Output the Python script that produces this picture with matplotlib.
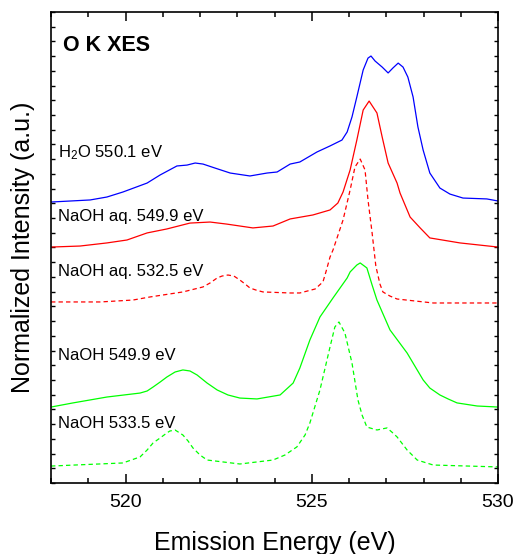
import matplotlib
matplotlib.use("Agg")
import matplotlib.pyplot as plt
from matplotlib.ticker import MultipleLocator, NullFormatter

plt.rcParams["font.family"] = ["Liberation Sans", "DejaVu Sans"]
plt.rcParams["mathtext.default"] = "regular"

# O K-edge XES spectra, vertically offset (arbitrary units)
h2o_e = [518.00, 519.05, 519.50, 519.93, 520.58, 520.93, 521.38, 521.65, 521.87, 522.08,
         522.40, 522.81, 523.34, 523.80, 524.07, 524.42, 524.68, 525.14, 525.49, 525.81,
         525.95, 526.08, 526.21, 526.38, 526.51, 526.59, 526.70, 526.89, 527.05, 527.18,
         527.32, 527.45, 527.58, 527.72, 527.85, 527.99, 528.17, 528.44, 528.71, 529.06,
         529.70, 530.00]
h2o_i = [19.09, 19.23, 19.43, 19.77, 20.38, 20.93, 21.54, 21.60, 21.74, 21.67,
         21.40, 21.06, 20.86, 21.06, 21.13, 21.67, 21.81, 22.49, 22.90, 23.30,
         23.85, 24.87, 26.23, 28.06, 28.87, 29.01, 28.67, 28.26, 27.86, 28.20,
         28.53, 28.26, 27.58, 26.23, 24.19, 22.62, 21.06, 20.04, 19.63, 19.36,
         19.30, 19.16]

aq_hi_e = [518.00, 518.78, 519.50, 520.04, 520.58, 521.11, 521.73, 522.27, 522.72, 523.42,
           523.96, 524.42, 525.03, 525.49, 525.70, 525.84, 526.03, 526.21, 526.38, 526.54,
           526.75, 526.89, 527.05, 527.29, 527.37, 527.64, 527.91, 528.17, 528.98, 530.00]
aq_hi_i = [16.03, 16.10, 16.31, 16.51, 16.99, 17.26, 17.66, 17.73, 17.59, 17.33,
           17.46, 17.94, 18.21, 18.55, 19.02, 19.77, 21.27, 23.30, 25.34, 25.95,
           25.14, 23.51, 21.74, 20.38, 19.70, 18.07, 17.33, 16.65, 16.31, 16.03]

aq_res_e = [518.00, 519.32, 520.20, 520.66, 521.54, 522.08, 522.27, 522.46, 522.59, 522.75,
            522.91, 523.07, 523.21, 523.34, 523.50, 523.69, 524.42, 524.68, 525.09, 525.30,
            525.38, 525.49, 525.57, 525.84, 526.03, 526.16, 526.30, 526.43, 526.51, 526.62,
            526.72, 526.83, 526.91, 527.10, 527.29, 528.26, 530.00]
aq_res_i = [12.30, 12.30, 12.43, 12.64, 12.98, 13.32, 13.59, 13.93, 14.06, 14.13,
            14.06, 13.79, 13.52, 13.25, 13.11, 12.98, 12.91, 12.91, 13.18, 13.66,
            14.34, 15.35, 15.83, 17.87, 19.91, 21.47, 22.01, 21.27, 19.23, 16.99,
            14.74, 13.52, 12.98, 12.70, 12.50, 12.23, 12.23]

naoh_hi_e = [518.00, 518.59, 519.50, 520.39, 520.58, 520.74, 520.93, 521.11, 521.33, 521.54,
             521.73, 521.92, 522.19, 522.46, 522.75, 523.07, 523.53, 524.15, 524.50, 524.68,
             524.95, 525.22, 525.57, 525.95, 526.03, 526.21, 526.30, 526.48, 526.62, 526.75,
             527.10, 527.56, 527.99, 528.17, 528.44, 528.66, 528.90, 529.44, 530.00]
naoh_hi_i = [5.16, 5.44, 5.84, 6.11, 6.25, 6.52, 6.86, 7.20, 7.54, 7.68,
             7.61, 7.34, 6.79, 6.32, 5.98, 5.77, 5.71, 5.98, 6.79, 7.81,
             9.72, 11.28, 12.57, 13.93, 14.34, 14.81, 14.95, 14.61, 13.45, 12.43,
             10.40, 8.83, 7.00, 6.45, 5.98, 5.71, 5.44, 5.23, 5.16]

naoh_res_e = [518.00, 519.93, 520.39, 520.58, 520.74, 520.93, 521.11, 521.19, 521.33, 521.54,
              521.68, 521.81, 522.00, 522.19, 523.07, 523.96, 524.28, 524.60, 524.82, 524.95,
              525.22, 525.49, 525.62, 525.73, 525.89, 526.08, 526.24, 526.35, 526.48, 526.75,
              527.02, 527.15, 527.29, 527.56, 527.83, 528.26, 530.00]
naoh_res_i = [1.15, 1.36, 1.77, 2.24, 2.72, 3.06, 3.40, 3.53, 3.60, 3.26,
              2.85, 2.38, 1.90, 1.56, 1.29, 1.56, 1.90, 2.45, 3.26, 4.08,
              6.32, 9.24, 10.60, 10.94, 10.19, 8.15, 5.64, 4.62, 3.80, 3.60,
              3.74, 3.46, 3.13, 2.24, 1.56, 1.22, 1.09]

labels = ["H$_2$O 550.1 eV", "NaOH aq. 549.9 eV", "NaOH aq. 532.5 eV",
          "NaOH 549.9 eV", "NaOH 533.5 eV"]
label_y = [22.15, 17.80, 14.06, 8.36, 3.74]

fig = plt.figure(figsize=(5.18, 5.54), dpi=100)
ax = fig.add_axes([0.0985, 0.1282, 0.8629, 0.8501])

dash = (0, (3.5, 2.5))
line_kw = dict(lw=0.9, solid_joinstyle="round", dash_joinstyle="round")
ax.plot(h2o_e, h2o_i, color="#0000ff", **line_kw)
ax.plot(aq_hi_e, aq_hi_i, color="#ff0000", **line_kw)
ax.plot(aq_res_e, aq_res_i, color="#ff0000", ls=dash, **line_kw)
ax.plot(naoh_hi_e, naoh_hi_i, color="#00ff00", **line_kw)
ax.plot(naoh_res_e, naoh_res_i, color="#00ff00", ls=dash, **line_kw)

for text, y in zip(labels, label_y):
    ax.text(518.19, y, text, fontsize=12, va="baseline", ha="left")
ax.text(518.32, 29.35, "O K XES", fontsize=15.5, fontweight="bold", va="baseline", ha="left")

ax.set_xlim(518, 530)
ax.set_ylim(0, 32)
ax.xaxis.set_major_locator(MultipleLocator(5))
ax.xaxis.set_minor_locator(MultipleLocator(1))
ax.yaxis.set_major_locator(MultipleLocator(1))
ax.yaxis.set_major_formatter(NullFormatter())
ax.tick_params(axis="x", which="major", direction="in", length=6.5, width=1.1,
               top=True, labelsize=14, pad=8)
ax.tick_params(axis="x", which="minor", direction="in", length=3.3, width=1.1, top=True)
ax.tick_params(axis="y", which="major", direction="in", length=3.0, width=1.0, right=True)
for sp in ax.spines.values():
    sp.set_linewidth(1.2)

ax.set_xlabel("Emission Energy (eV)", fontsize=18, labelpad=14)
ax.set_ylabel("Normalized Intensity (a.u.)", fontsize=18, labelpad=8)

fig.savefig("out.png", dpi=100)
